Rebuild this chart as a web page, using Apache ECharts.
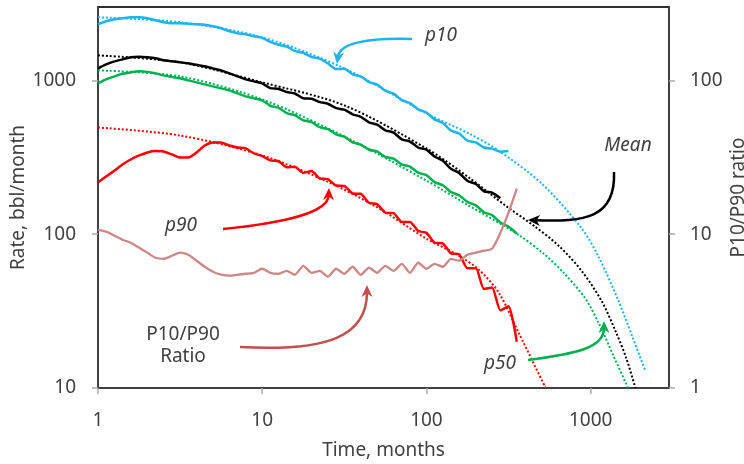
<!DOCTYPE html>
<html>
<head>
<meta charset="utf-8">
<script src="https://cdn.jsdelivr.net/npm/echarts@6/dist/echarts.min.js"></script>
<style>html,body{margin:0;padding:0;background:#fff;}#c{width:744px;height:464px;}</style>
</head>
<body>
<div id="c"></div>
<script>
// Time grid (months) for measured curves
const tGrid = [1,1.12,1.26,1.41,1.58,1.78,2,2.24,2.51,2.82,3.16,3.55,3.98,4.47,5.01,5.62,6.31,7.08,7.94,8.91,10,11.2,12.6,14.1,15.8,17.8,20,22.4,25.1,28.2,31.6,35.5,39.8,44.7,50.1,56.2,63.1,70.8,79.4,89.1,100,112,126,141,158,178,200,224,251,282,316,355];

// Measured rates, bbl/month
const p10Rate = [2317,2424,2497,2534,2573,2573,2534,2460,2387,2352,2352,2335,2317,2300,2248,2182,2085,2024,1994,1935,1890,1780,1705,1660,1555,1510,1420,1385,1290,1185,1190,1095,1060,975,940,858,820,745,712,648,618,558,528,472,452,405,395,366,360,344,348];
const meanRate = [1197,1272,1330,1370,1412,1423,1412,1391,1350,1330,1310,1291,1262,1234,1197,1162,1111,1062,1015,985,955,890,880,840,822,765,760,722,705,660,645,602,580,534,516,474,458,413,400,366,354,320,300,266,250,222,212,190,186,171];
const p50Rate = [956,1015,1062,1103,1127,1145,1136,1111,1078,1054,1031,1000,971,942,914,887,861,823,787,764,741,684,662,612,594,550,536,496,482,446,431,396,382,354,345,318,310,284,275,251,242,218,208,188,179,162,154,139,133,119,112,101];
const p90Rate = [217,237,259,284,306,325,340,347,345,330,315,315,340,377,395,395,377,366,361,335,322,302,298,272,274,250,258,230,228,207,206,184,183,160,157,138,137,120,120,105,102,88,87,75,74,60,60,44,45,32,34,20];
// P10/P90 ratio (right axis)
const ratioVal = [10.70,10.38,9.78,9.21,8.80,8.17,7.58,7.03,6.92,7.24,7.58,7.35,6.72,6.14,5.70,5.45,5.37,5.45,5.53,5.61,5.96,5.61,5.53,5.78,5.45,6.23,5.61,5.78,5.29,5.96,5.53,6.14,5.45,6.05,5.61,6.23,5.78,6.42,5.61,6.52,5.96,6.42,6.14,6.92,6.72,7.35,7.58,7.81,8.05,10.2,13.8,19.8];

// Fitted (dotted) curves
const p10FitT = [1,3.16,10,31.6,100,181,275,504,877,1117,1477,1796,2155];
const p10FitRate = [2573,2387,1906,1197,610,452,350,213,110,71.4,36.9,21.5,12.9];
const meanFitT = [1,3.16,10,31.6,100,182,304,450,638,881,1164,1416,1652,1874];
const meanFitRate = [1455,1310,971,688,361,233,153,113.6,84.2,57.8,36.9,23.5,15.5,10];
const p50FitT = [1,3.16,10,31.6,100,182,364,518,685,931,1117,1377,1690];
const p50FitRate = [1162,1062,752,432,223,153,99,74.6,56.1,38.0,26.5,16.2,10];
const p90FitT = [1,3.16,10,25.6,51.5,100,158,212,276,365,532];
const p90FitRate = [494,438,325,217,147,93.5,72.4,57.8,41.6,22.8,10];

const xTicks = [1,10,100,1000];
const yTicks = [10,100,1000];
const y2Ticks = [1,10,100];

const C = {blue:'#1EB4EB', black:'#000000', green:'#00B050', red:'#FF0000', ratio:'#CD8787', ratioArrow:'#C0504D', text:'#404040'};
const FONT = 'Noto Sans';

function pairs(t, v){ return v.map((y,i)=>[t[i], y]); }

function solid(name, t, v, color, yIdx, w){
  return {name, type:'line', data:pairs(t,v), yAxisIndex:yIdx||0, symbol:'none', smooth:0.2,
    lineStyle:{color, width:w||2.5}, z:3, silent:true};
}
function dotted(name, t, v, color){
  return {name, type:'line', data:pairs(t,v), symbol:'none', smooth:0.3,
    lineStyle:{color, width:2, type:[2,2]}, z:2, silent:true};
}

function arrow(p0, c1, c2, tip, color){
  const dx = tip[0]-c2[0], dy = tip[1]-c2[1];
  const len = Math.hypot(dx,dy), ux = dx/len, uy = dy/len;
  const L = 12, W = 5.5, px = -uy, py = ux;
  const base = [tip[0]-ux*L, tip[1]-uy*L];
  const notch = [tip[0]-ux*L*0.7, tip[1]-uy*L*0.7];
  const end = [tip[0]-ux*L*0.6, tip[1]-uy*L*0.6];
  return [
    {type:'bezierCurve', silent:true, shape:{x1:p0[0],y1:p0[1],cpx1:c1[0],cpy1:c1[1],cpx2:c2[0],cpy2:c2[1],x2:end[0],y2:end[1]},
      style:{stroke:color, lineWidth:2.5, fill:'none'}, z:10},
    {type:'polygon', silent:true, shape:{points:[tip,[base[0]+px*W, base[1]+py*W], notch, [base[0]-px*W, base[1]-py*W]]},
      style:{fill:color}, z:10}
  ];
}
function label(text, x, y, italic){
  return {type:'text', x, y, silent:true, z:10,
    style:{text, align:'center', verticalAlign:'middle', fontSize:19, lineHeight:22, fontFamily:FONT,
      fontStyle: italic ? 'italic' : 'normal', fill:C.text}};
}
const plain = v => String(Math.round(v));

const chart = echarts.init(document.getElementById('c'), null, {renderer:'canvas'});
const axisCommon = {
  axisLine:{show:true, lineStyle:{color:'#404040', width:2}},
  splitLine:{show:false},
  minorTick:{show:false},
  nameMoveOverlap:false,
  nameTextStyle:{fontSize:19, color:C.text, fontFamily:FONT}
};
chart.setOption({
  animation:false,
  backgroundColor:'#fff',
  grid:{left:98, right:75, top:7, bottom:76, containLabel:false, outerBoundsMode:'none',
    show:true, borderColor:'#303030', borderWidth:2, backgroundColor:'transparent'},
  xAxis:Object.assign({}, axisCommon, {
    type:'log', logBase:10, min:1, max:3000,
    name:'Time, months', nameLocation:'middle', nameGap:53,
    axisTick:{show:true, length:6, lineStyle:{color:'#aaa', width:1.5}, customValues:xTicks},
    axisLabel:{customValues:xTicks, formatter:plain, fontSize:19, color:C.text, fontFamily:FONT, margin:23}
  }),
  yAxis:[
    Object.assign({}, axisCommon, {
      type:'log', logBase:10, min:10, max:3000, position:'left',
      name:'Rate, bbl/month', nameLocation:'middle', nameGap:70, nameRotate:90,
      axisTick:{show:true, length:6, lineStyle:{color:'#aaa', width:1.5}, customValues:yTicks},
      axisLabel:{customValues:yTicks, formatter:plain, fontSize:19, color:C.text, fontFamily:FONT, margin:22}
    }),
    Object.assign({}, axisCommon, {
      type:'log', logBase:10, min:1, max:300, position:'right',
      name:'P10/P90 ratio', nameLocation:'middle', nameGap:60, nameRotate:90,
      axisTick:{show:true, length:6, lineStyle:{color:'#aaa', width:1.5}, customValues:y2Ticks},
      axisLabel:{customValues:y2Ticks, formatter:plain, fontSize:19, color:C.text, fontFamily:FONT, margin:21}
    })
  ],
  series:[
    dotted('p10 fit', p10FitT, p10FitRate, C.blue),
    dotted('Mean fit', meanFitT, meanFitRate, C.black),
    dotted('p50 fit', p50FitT, p50FitRate, C.green),
    dotted('p90 fit', p90FitT, p90FitRate, C.red),
    solid('p10', tGrid, p10Rate, C.blue),
    solid('Mean', tGrid, meanRate, C.black),
    solid('p50', tGrid, p50Rate, C.green),
    solid('p90', tGrid, p90Rate, C.red),
    solid('P10/P90 Ratio', tGrid, ratioVal, C.ratio, 1, 2.3)
  ],
  graphic:[].concat(
    arrow([412,39],[372,38],[340,42],[337,64], C.blue),
    arrow([614,172],[616,218],[585,222],[528,220], C.black),
    arrow([223,229],[290,222],[328,212],[329,188], C.red),
    arrow([240,347],[330,352],[367,335],[367,285], C.ratioArrow),
    arrow([528,360],[575,354],[604,348],[604,321], C.green),
    [label('p10', 441, 36, true), label('Mean', 628, 146, true), label('p90', 181, 226, true),
     label('P10/P90\nRatio', 183, 346, false), label('p50', 500, 364, true)]
  )
});
</script>
</body>
</html>
